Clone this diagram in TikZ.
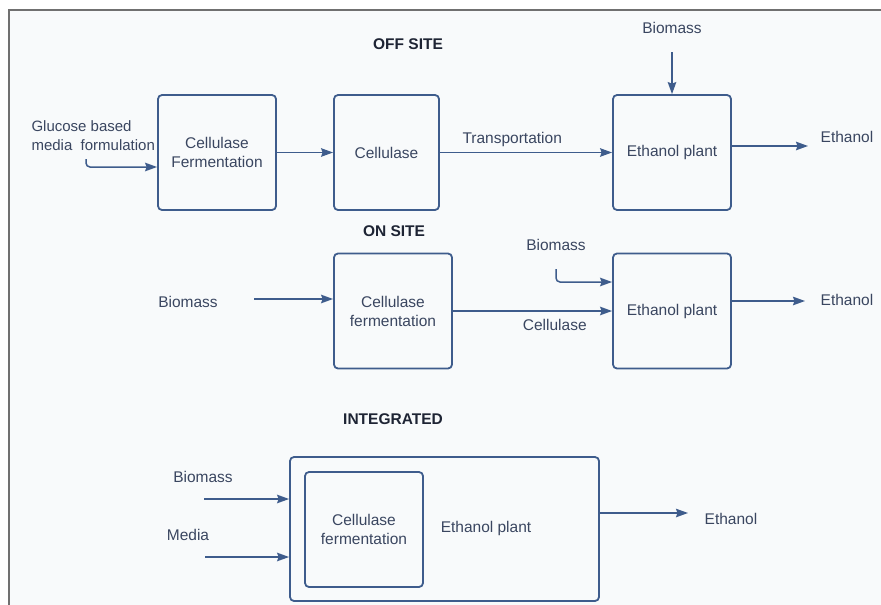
\documentclass[tikz,border=0pt]{standalone}
\usepackage{fontspec}
\setmainfont{Liberation Sans}
\usepackage{xcolor}
\definecolor{flblue}{RGB}{62,92,140}
\definecolor{fltext}{RGB}{58,70,96}
\definecolor{flhead}{RGB}{30,36,52}
\definecolor{flframe}{RGB}{112,112,112}
\definecolor{flbg}{RGB}{248,250,251}
\usetikzlibrary{arrows.meta,positioning}

\begin{document}
\begin{tikzpicture}[
  x=1pt,y=-1pt,
  every node/.style={font=\fontsize{15.5}{19}\selectfont,text=fltext},
  unitbox/.style={draw=flblue,line width=1.8pt,rounded corners=4pt,align=center,
                  minimum width=118pt,minimum height=115pt,inner sep=0pt},
  flow/.style={-{Stealth[length=12pt,width=8.5pt,inset=1.5pt]},draw=flblue,line width=1.5pt},
  heading/.style={font=\fontsize{15.5}{19}\selectfont\bfseries,text=flhead},
]
  \useasboundingbox (0,0) rectangle (881,605);
  % Frame
  \fill[flbg] (9,10) rectangle (881,605);
  \draw[flframe,line width=2pt] (9,605) -- (9,10) -- (881,10);

  % Off site
  \node[heading] (hoff) at (408,44) {OFF SITE};
  \node[unitbox] (cf1) at (217,152.5) {Cellulase\\Fermentation};
  \node[unitbox,minimum width=105pt] (cel) at (386.5,152.5) {Cellulase};
  \node[unitbox] (ep1) at (672,152.5) {Ethanol plant};
  \node[align=left,anchor=west,font=\fontsize{15}{19}\selectfont] (glc) at (28,136)
    {Glucose based\\media\ \ formulation};
  \node (bio1) at (672,28) {Biomass};
  \node (eth1) at (847,137) {Ethanol};

  \coordinate (glcin) at (86,159);
  \draw[flow,rounded corners=4pt] (glcin) |- ([yshift=-14.5pt]cf1.west);
  \draw[flow] (cf1) -- (cel);
  \draw[flow] (cel) -- (ep1) node[pos=0.42,above=2pt] {Transportation};
  \draw[flow,shorten <=15pt] (bio1) -- (ep1);
  \coordinate (eth1out) at (808,146);
  \draw[flow] (eth1out -| ep1.east) -- (eth1out);

  % On site
  \node[heading] (hon) at (394,231) {ON SITE};
  \node[unitbox] (cf2) at (393,311) {Cellulase\\fermentation};
  \node[unitbox] (ep2) at (672,311) {Ethanol plant};
  \node (bio2) at (188,302) {Biomass};
  \node (bio3) at (556,245) {Biomass};
  \node (eth2) at (847,300) {Ethanol};

  \coordinate (bio2in) at (254,299);
  \draw[flow] (bio2in) -- (bio2in -| cf2.west);
  \draw[flow] (cf2) -- (ep2) node[pos=0.64,below=4pt] {Cellulase};
  \coordinate (bio3in) at (556,269);
  \draw[flow,rounded corners=4pt] (bio3in) |- ([yshift=29pt]ep2.west);
  \coordinate (eth2out) at (805,301);
  \draw[flow] (eth2out -| ep2.east) -- (eth2out);

  % Integrated
  \node[heading] (hint) at (393,419) {INTEGRATED};
  \node[unitbox,minimum width=309pt,minimum height=144pt] (intg) at (444.5,529) {};
  \node[unitbox] (cf3) at (364,529.5) {Cellulase\\fermentation};
  \node (intlbl) at (486,528) {Ethanol plant};
  \node (bio4) at (203,477) {Biomass};
  \node (med) at (188,535) {Media};
  \node (eth3) at (731,519) {Ethanol};

  \coordinate (bio4in) at (204,499);
  \draw[flow] (bio4in) -- (bio4in -| intg.west);
  \coordinate (medin) at (205,557);
  \draw[flow] (medin) -- (medin -| intg.west);
  \coordinate (eth3out) at (688,513);
  \draw[flow] (eth3out -| intg.east) -- (eth3out);
\end{tikzpicture}
\end{document}
